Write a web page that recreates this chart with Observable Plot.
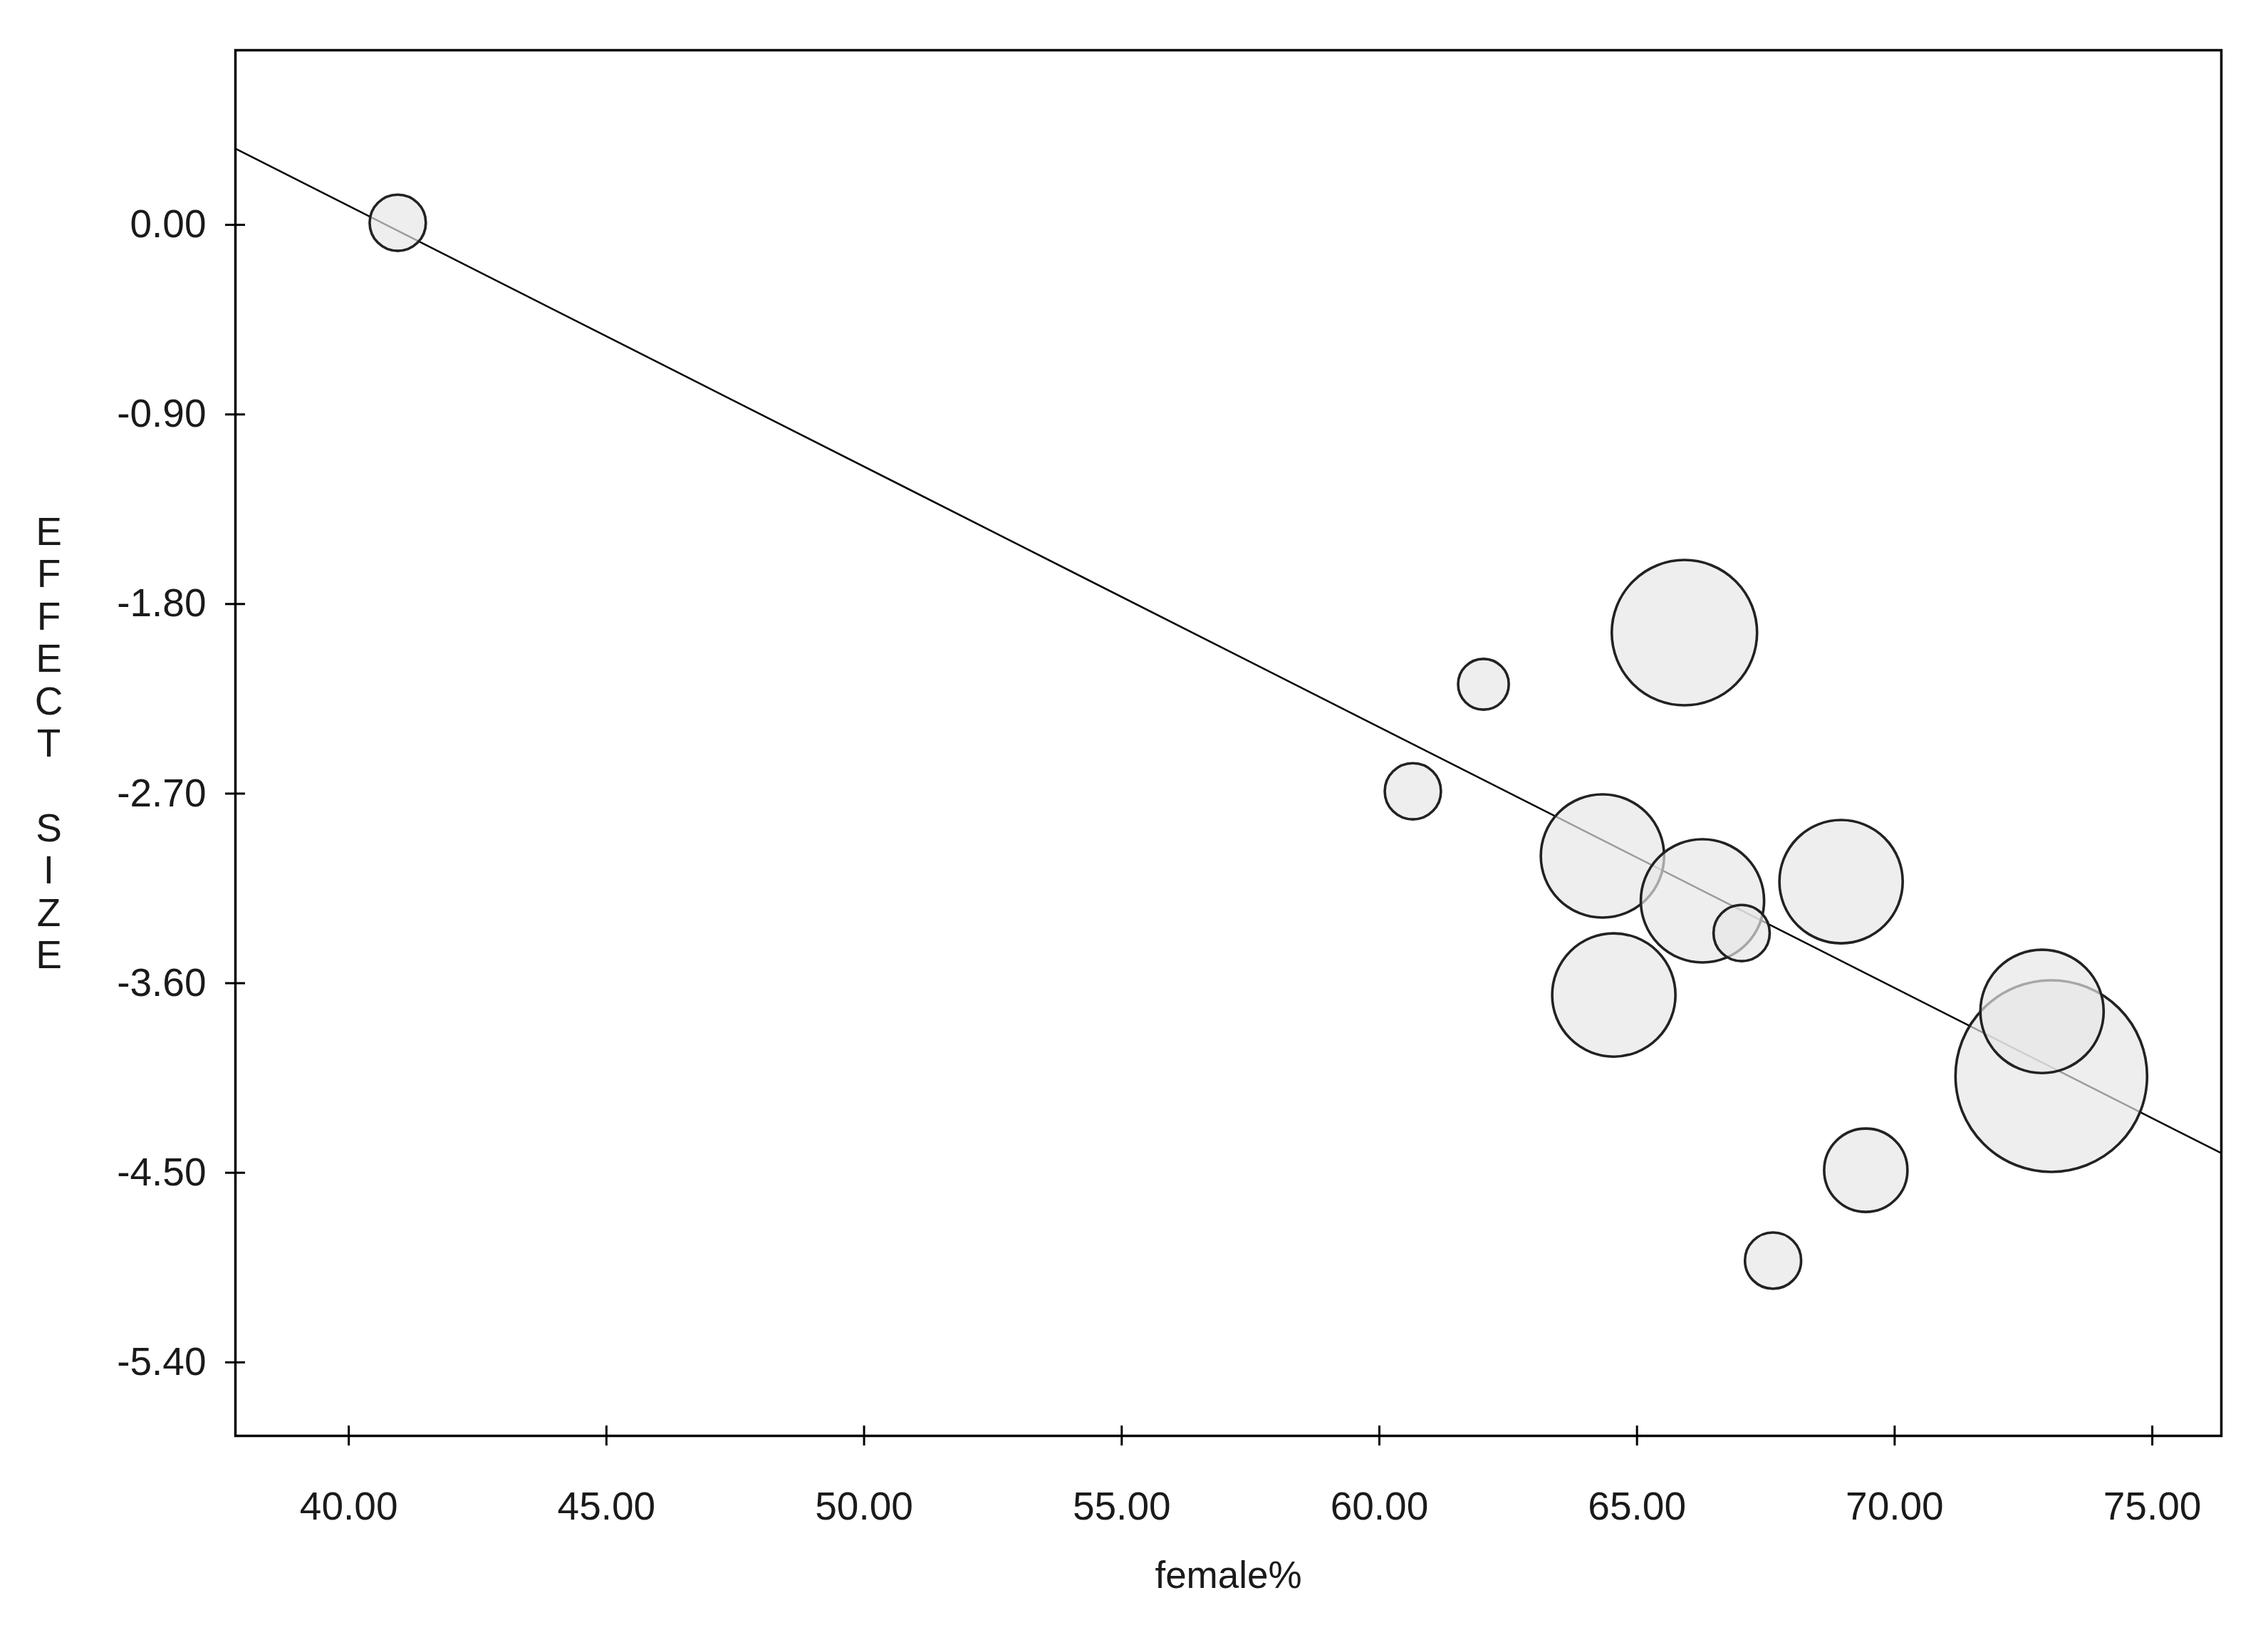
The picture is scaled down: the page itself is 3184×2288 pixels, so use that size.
<!DOCTYPE html>
<html>
<head>
<meta charset="utf-8">
<script src="https://cdn.jsdelivr.net/npm/d3@7"></script>
<script src="https://cdn.jsdelivr.net/npm/@observablehq/plot@0.6"></script>
<style>
  html, body { margin: 0; padding: 0; background: #ffffff; }
  #chart svg { display: block; }
</style>
</head>
<body>
<div id="chart"></div>
<script>
// ---- data ----
const femalePct  = [40.95, 60.65, 62.02, 65.92, 64.33, 67.03, 66.27, 68.96, 64.55, 73.04, 72.86, 69.44, 67.64];
const effectSize = [0.01, -2.689, -2.181, -1.936, -2.996, -3.362, -3.209, -3.118, -3.656, -4.041, -3.734, -4.488, -4.917];
const weight     = [8.6, 8.6, 7.0, 57.5, 41.4, 8.6, 41.4, 41.4, 41.4, 100, 41.4, 18.9, 8.6];

// regression line end points (at the frame edges)
const lineX = [37.80, 76.34];
const lineY = [0.362, -4.407];

const xTicks = [40, 45, 50, 55, 60, 65, 70, 75];
const yTicks = [0, -0.9, -1.8, -2.7, -3.6, -4.5, -5.4];
const xTitle = "female%";
const yTitle = "EFFECT SIZE";

const studies = femalePct.map((x, i) => ({x, y: effectSize[i], w: weight[i]}));
const regLine = lineX.map((x, i) => ({x, y: lineY[i]}));
const fmt = d => d.toFixed(2);
const font = "Liberation Sans, Arial, sans-serif";

const chart = Plot.plot({
  width: 3184,
  height: 2288,
  marginLeft: 330,
  marginRight: 66,
  marginTop: 70,
  marginBottom: 273,
  style: {fontFamily: font, background: "#ffffff", color: "#1a1a1a"},
  x: {domain: [37.80, 76.34], axis: null},
  y: {domain: [-5.749, 0.829], axis: null},
  r: {type: "sqrt", domain: [0, 100], range: [0, 134.5]},
  marks: [
    Plot.line(regLine, {x: "x", y: "y", stroke: "#000000", strokeWidth: 2.5, clip: true}),
    Plot.dot(studies, {x: "x", y: "y", r: "w", fill: "#e6e6e6", fillOpacity: 0.68, stroke: "#222222", strokeWidth: 3.6}),
    Plot.frame({stroke: "#000000", strokeWidth: 3.5}),
    Plot.axisX({ticks: xTicks, anchor: "bottom", tickSize: 28, dy: -14, fill: "none", label: null, stroke: "#000", strokeWidth: 3}),
    Plot.axisY({ticks: yTicks, anchor: "left", tickSize: 28, dx: 14, fill: "none", label: null, stroke: "#000", strokeWidth: 3}),
    Plot.text(xTicks, {x: d => d, text: fmt, frameAnchor: "bottom", dy: 100, lineAnchor: "middle", fontSize: 55, fill: "#1a1a1a"}),
    Plot.text(yTicks, {y: d => d, text: fmt, frameAnchor: "left", textAnchor: "end", dx: -41, fontSize: 55, fill: "#1a1a1a"}),
    Plot.text([xTitle], {text: d => d, frameAnchor: "bottom", dy: 197, lineAnchor: "middle", fontSize: 53, fill: "#1a1a1a"}),
    Plot.text([yTitle], {text: d => d.split("").join("\n"), frameAnchor: "left", dx: -262, textAnchor: "middle", lineAnchor: "middle", lineHeight: 1.08, fontSize: 55, fill: "#1a1a1a"})
  ]
});
document.getElementById("chart").appendChild(chart);
</script>
</body>
</html>
